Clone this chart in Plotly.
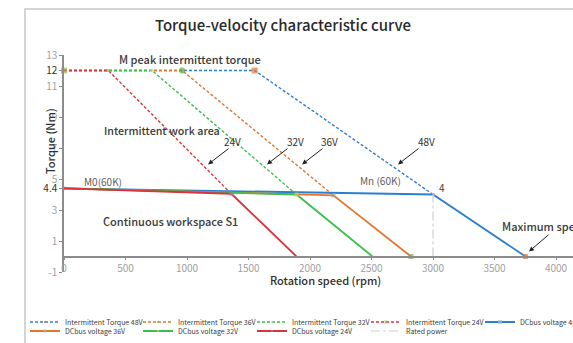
import plotly.graph_objects as go

# ---- data ----
voltages = ["48V", "36V", "32V", "24V"]
peak_torque = 12          # Nm, intermittent peak
stall_torque = 4.4        # Nm, M0 (60K)
plateau_end_speed = [1550, 960, 715, 360]      # rpm where the peak plateau ends
knee_speed = [3000, 2190, 1890, 1360]          # rpm, corner point
knee_torque = [4.0, 3.95, 4.0, 4.05]           # Nm at the corner point
max_speed = [3752, 2821, 2508, 1890]           # rpm at zero torque
rated_speed = 3000

speed_ticks = [0, 500, 1000, 1500, 2000, 2500, 3000, 3500, 4000]
torque_ticks = [-1, 1, 3, 4.4, 5, 7, 9, 11, 12, 13]
torque_marked = [12, 4.4]

# ---- style ----
FONT = "Noto Sans CJK SC, Source Sans Pro, Noto Sans, sans-serif"
colors = {"48V": "#2b7fcf", "36V": "#e2762f", "32V": "#3cbf4c", "24V": "#d8343e"}
peak_marker = {
    "48V": dict(symbol=["square", "square", "square"], size=[0, 6, 0], color="#e2762f"),
    "36V": dict(symbol=["circle"] * 3, size=[0, 6, 0], color="#5aa83a"),
    "32V": dict(symbol=["circle"] * 3, size=[0, 4, 0], color="#b8d4e8"),
    "24V": dict(symbol=["square"] * 3, size=[6, 3, 0], color="#a4b44c"),
}
dc_marker = {
    "48V": dict(symbol="square", size=[4, 3, 5], color=["#9cc3e6", "#b0b0b0", "#e2762f"]),
    "36V": dict(symbol="square", size=[0, 4, 5], color=["#b0b0b0", "#a0a0a0", "#8aa060"]),
    "32V": dict(symbol="square", size=[0, 4, 0], color=["#e0d040", "#e0d040", "#e0d040"]),
    "24V": dict(symbol="square", size=[0, 4, 0], color=["#8a8aa0", "#8a8aa0", "#8a8aa0"]),
}

fig = go.Figure()

# legend slots: (left px, row centre px), two rows of five columns
col_left = [25, 138, 252, 366, 480]
row_y = [322, 331]
legend_slots = [(c, r) for r in row_y for c in col_left]

slot = 0
def next_legend():
    global slot
    name = "legend" if slot == 0 else f"legend{slot + 1}"
    slot += 1
    return name

# intermittent torque (dashed)
for i, v in enumerate(voltages):
    fig.add_trace(go.Scatter(
        x=[0, plateau_end_speed[i], knee_speed[i]],
        y=[peak_torque, peak_torque, knee_torque[i]],
        mode="lines+markers", name=f"Intermittent Torque {v}",
        line=dict(color=colors[v], width=1.4, dash="3px,2px"),
        marker=dict(line=dict(width=0), **peak_marker[v]),
        legend=next_legend(), cliponaxis=False,
    ))

# DC bus voltage (solid)
for i, v in enumerate(voltages):
    fig.add_trace(go.Scatter(
        x=[0, knee_speed[i], max_speed[i]],
        y=[stall_torque, knee_torque[i], 0],
        mode="lines+markers", name=f"DCbus voltage {v}",
        line=dict(color=colors[v], width=1.8),
        marker=dict(line=dict(width=0), **dc_marker[v]),
        legend=next_legend(), cliponaxis=False,
    ))

# rated power marker line
fig.add_trace(go.Scatter(
    x=[rated_speed, rated_speed], y=[0, knee_torque[0]],
    mode="lines", name="Rated power",
    line=dict(color="#d0d0d0", width=1.2, dash="dashdot"),
    legend=next_legend(),
))

# legends
legend_layout = {}
for k in range(slot):
    name = "legend" if k == 0 else f"legend{k + 1}"
    lx, ly = legend_slots[k]
    legend_layout[name] = dict(
        x=(lx - 64) / 509, xanchor="left",
        y=(272 - ly) / 217, yanchor="middle",
        orientation="h", bgcolor="rgba(0,0,0,0)",
        font=dict(family=FONT, size=7, color="#404040"),
        itemwidth=30,
    )

# y tick labels, marked values darker
def fmt(v):
    return f"{v:g}"

ytext = []
for t in torque_ticks:
    if t in torque_marked:
        ytext.append(f'<span style="color:#303030">{fmt(t)}</span>')
    else:
        ytext.append(fmt(t))

annotations = []

def note(text, x, y, size=11, color="#3a3a3a", weight=500, **kw):
    annotations.append(dict(text=text, x=x, y=y, xref=kw.pop("xref", "x"), yref=kw.pop("yref", "y"),
                            showarrow=False, font=dict(family=FONT, size=size, color=color, weight=weight), **kw))

note("M peak intermittent torque", 1024, 12.71, size=11)
note("Intermittent work area", 797, 8.13, size=10.7)
note("Continuous workspace S1", 862, 2.32)
note("M0(60K)", 317, 4.84, size=10, color="#606060", weight=400)
note("Mn (60K)", 2569, 4.9, size=10, color="#606060", weight=400)
note(fmt(knee_torque[0]), knee_speed[0], knee_torque[0], size=10, color="#404040", weight=400,
     xshift=9, yshift=7)
note("Maximum speed", 3544, 2.0, size=11, xanchor="left")

# voltage call-outs
label_speed = {"24V": 1366, "32V": 1886, "36V": 2162, "48V": 2951}
head_speed = {"24V": 1171, "32V": 1650, "36V": 1935, "48V": 2715}
for v in voltages:
    note(v, label_speed[v], 7.42, size=10, color="#303030", weight=400)
    annotations.append(dict(text="", x=head_speed[v], y=5.94, xref="x", yref="y",
                            showarrow=True, ax=22, ay=-17, arrowhead=2, arrowsize=1,
                            arrowwidth=1, arrowcolor="#222222"))
annotations.append(dict(text="", x=3780, y=0.32, xref="x", yref="y",
                        showarrow=True, ax=21, ay=-18, arrowhead=2, arrowsize=1,
                        arrowwidth=1, arrowcolor="#222222"))

# max speed values below the axis
for s in max_speed:
    note(fmt(s), s, -1.42, size=10, color="#303030", weight=400)

# axis titles
note("Rotation speed (rpm)", 2122, -0.083, size=11, color="#303030", yref="paper")
note("Torque (Nm)", -0.047, 0.604, size=11, color="#303030", xref="paper", yref="paper",
     textangle=-90)

fig.update_layout(
    width=573, height=343,
    margin=dict(l=64, r=0, t=55, b=71, autoexpand=False),
    paper_bgcolor="white", plot_bgcolor="white",
    title=dict(text="Torque-velocity characteristic curve", x=283 / 573, xanchor="center",
               y=1 - 26 / 343, yanchor="middle",
               font=dict(family=FONT, size=15, color="#2a2a2a", weight=500)),
    xaxis=dict(range=[0, 4138], tickvals=speed_ticks, showgrid=False, zeroline=False,
               showline=True, linecolor="#8c8c8c", linewidth=1.5,
               anchor="free", position=1 / 14,
               ticks="outside", ticklen=3, tickcolor="#8c8c8c",
               tickfont=dict(family=FONT, size=10, color="#a0a0a0")),
    yaxis=dict(range=[-1, 13], tickvals=torque_ticks, ticktext=ytext, showgrid=False,
               zeroline=False, showline=True, linecolor="#8c8c8c", linewidth=1.5,
               ticks="outside", ticklen=3, tickcolor="#8c8c8c",
               tickfont=dict(family=FONT, size=10, color="#a0a0a0")),
    annotations=annotations,
    shapes=[dict(type="rect", xref="paper", yref="paper",
                 x0=(25 - 64) / 509, x1=1.2, y0=-0.6, y1=(272 - 9) / 217,
                 line=dict(color="#c8c8c8", width=1.5), layer="below")],
    showlegend=True,
    **legend_layout,
)

fig.write_html("out.html")
